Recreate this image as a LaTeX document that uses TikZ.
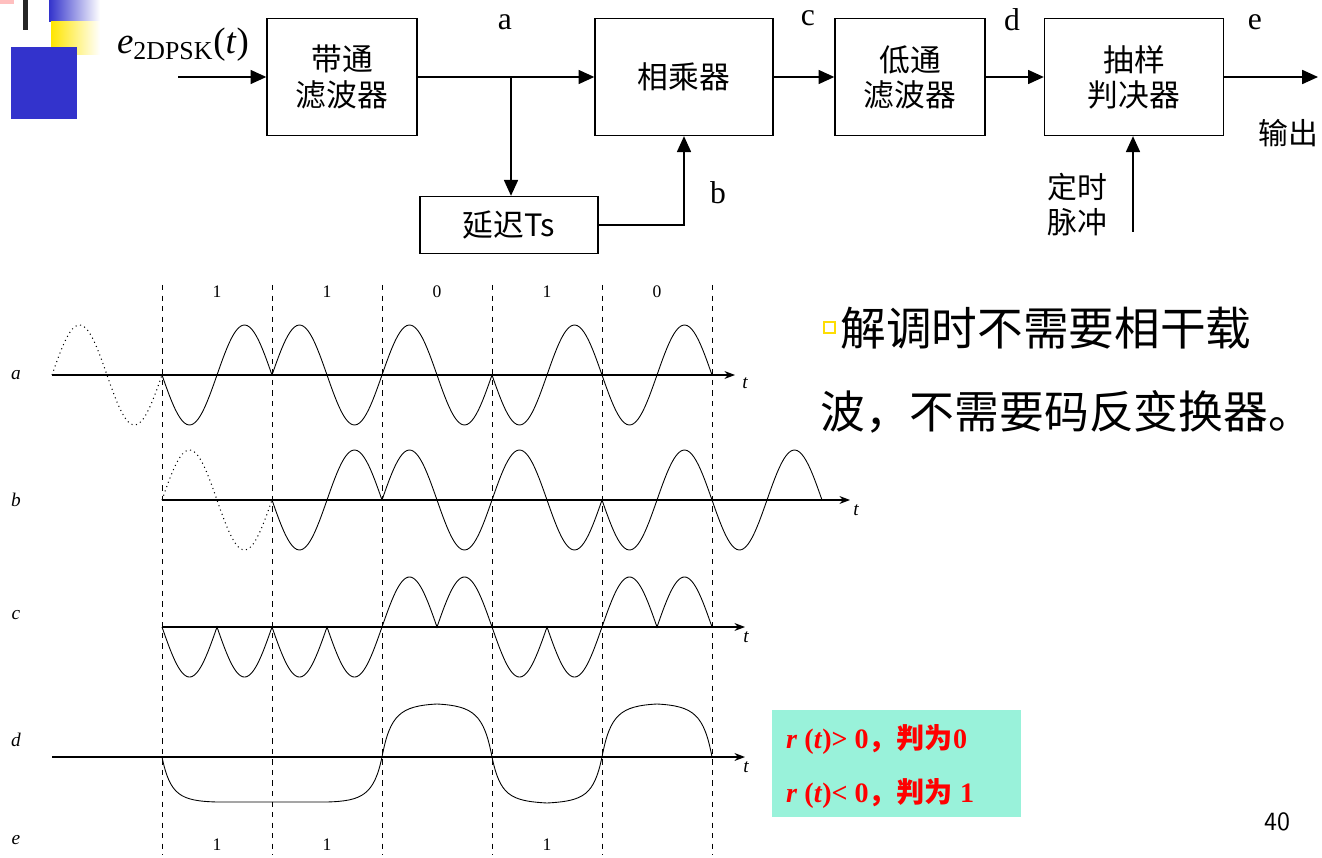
\documentclass[tikz,border=0pt]{standalone}
\usepackage{fontspec}
\setmainfont{Liberation Serif}
\newfontfamily\cjk{Noto Sans CJK SC}
\usetikzlibrary{arrows.meta}
\definecolor{dblue}{HTML}{3333CC}
\definecolor{mint}{HTML}{99F2DA}
\begin{document}
\begin{tikzpicture}[x=0.02cm,y=-0.02cm,
  blk/.style={draw,thick,minimum width=3cm,minimum height=2.34cm,font=\cjk\fontsize{17.5}{20}\selectfont,align=center,inner sep=0pt},
  conn/.style={thick,-{Triangle[length=9pt,width=8pt]}},
  wv/.style={line width=0.5pt},
  dot/.style={line width=0.6pt,dotted},
  ax/.style={line width=0.7pt,-{Stealth[length=6pt]}},
  lab/.style={font=\fontsize{18}{20}\selectfont},
  wl/.style={font=\itshape\fontsize{11}{12}\selectfont},
  bitl/.style={font=\fontsize{10}{11}\selectfont}]
\useasboundingbox (0,0) rectangle (1322,858);
% decorations
\fill[pink] (0,0) rectangle (14,4);
\fill[black!85] (23,0) rectangle (28,30);
\shade[left color=dblue,right color=white] (49,0) rectangle (100,22);
\shade[left color=yellow!80!orange,right color=white] (51,22) rectangle (100,55);
\fill[dblue] (11,47) rectangle (77,119);
% blocks
\node[blk] (bp) at (342,77) {带通\\滤波器};
\node[blk,minimum width=3.56cm] (mul) at (684,77) {相乘器};
\node[blk] (lp) at (910,77) {低通\\滤波器};
\node[blk,minimum width=3.58cm] (sd) at (1134,77) {抽样\\判决器};
\node[blk,minimum width=3.56cm,minimum height=1.14cm] (dl) at (509,225) {延迟Ts};
\coordinate (in) at (178,77);
\coordinate (br) at (511,77);
\coordinate (out) at (1318,77);
\coordinate (tp) at (1133,232);
\node[font=\fontsize{21}{24}\selectfont] (ein) at (183,45) {\textit{e}$_{\mathrm{2DPSK}}$(\textit{t})};
\draw[conn] (in) -- (bp);
\draw[conn] (bp) -- (mul);
\draw[conn] (br) -- (dl.north -| br);
\draw[conn] (dl.east) -| (mul.south);
\draw[conn] (mul) -- (lp);
\draw[conn] (lp) -- (sd);
\draw[conn] (sd) -- (out);
\draw[conn] (tp) -- (sd.south -| tp);
\node[lab] (la) at (505,22) {a};
\node[lab] (lb) at (718,193) {b};
\node[lab] (lc) at (808,18) {c};
\node[lab] (ld) at (1012,20) {d};
\node[lab] (le) at (1255,22) {e};
\node[font=\cjk\fontsize{17}{19}\selectfont] (sc) at (1288,133) {输出};
\node[font=\cjk\fontsize{17}{20}\selectfont,align=center] (tm) at (1077,205) {定时\\脉冲};
% dashed lines
\foreach \x in {162,272,382,492,602,712} \draw[dashed,line width=0.5pt] (\x,285) -- (\x,855);
% bit labels
\foreach \x/\b in {217/1,327/1,437/0,547/1,657/0} \node[bitl] at (\x,292) {\b};
\foreach \x in {217,327,547} \node[bitl] at (\x,845) {1};
\foreach \y/\l in {375/a,500/b,615/c,740/d,840/e} \node[wl] at (16,\y) {\l};
% wave a
\draw[ax] (52,375) -- (735,375); \node[wl] at (745,383) {t};
\draw[dot] plot[domain=0:110,samples=50] ({52+\x},{375-50*sin(3.2727*\x)});
\foreach \s/\g in {162/-1,272/1,382/1,492/-1,602/-1}
  \draw[wv] plot[domain=0:110,samples=50] ({\s+\x},{375-\g*50*sin(3.2727*\x)});
% wave b
\draw[ax] (162,500) -- (850,500); \node[wl] at (856,510) {t};
\draw[dot] plot[domain=0:110,samples=50] ({162+\x},{500-50*sin(3.2727*\x)});
\foreach \s/\g in {272/-1,382/1,492/1,602/-1,712/-1}
  \draw[wv] plot[domain=0:110,samples=50] ({\s+\x},{500-\g*50*sin(3.2727*\x)});
% wave c
\draw[ax] (162,627) -- (745,627); \node[wl] at (746,637) {t};
\foreach \s/\g in {162/-1,272/-1,382/1,492/-1,602/1}
  \draw[wv] plot[domain=0:110,samples=81] ({\s+\x},{627-\g*50*abs(sin(3.2727*\x))});
% wave d
\draw[ax] (52,757) -- (745,757); \node[wl] at (746,767) {t};
\draw[wv] (162,757) .. controls (170,795) and (180,801) .. (217,802) -- (327,802)
  .. controls (362,801) and (374,795) .. (382,757)
  .. controls (390,715) and (400,706) .. (437,704)
  .. controls (474,706) and (484,715) .. (492,757)
  .. controls (500,795) and (510,801) .. (547,803)
  .. controls (584,801) and (594,795) .. (602,757)
  .. controls (610,715) and (620,706) .. (657,704)
  .. controls (694,706) and (704,715) .. (712,757);
% right text
\node[anchor=west,font=\cjk\fontsize{26}{30}\selectfont,inner sep=0pt] (t1) at (840,328) {解调时不需要相干载};
\draw[draw=yellow!80!orange,line width=1.4pt] (824,322) rectangle (835,333);
\node[anchor=west,font=\cjk\fontsize{25.5}{30}\selectfont,inner sep=0pt] (t2) at (820,412) {波，不需要码反变换器。};
\fill[mint] (772,710) rectangle (1021,817);
\node[anchor=west,text=red,font=\bfseries\fontsize{16}{18}\selectfont] (r1) at (780,739) {\textit{r} (\textit{t})> 0{\cjk ，判为}0};
\node[anchor=west,text=red,font=\bfseries\fontsize{16}{18}\selectfont] (r2) at (780,793) {\textit{r} (\textit{t})< 0{\cjk ，判为} 1};
\node[font=\sffamily\fontsize{15}{17}\selectfont] (pg) at (1277,822) {40};
\end{tikzpicture}
\end{document}
